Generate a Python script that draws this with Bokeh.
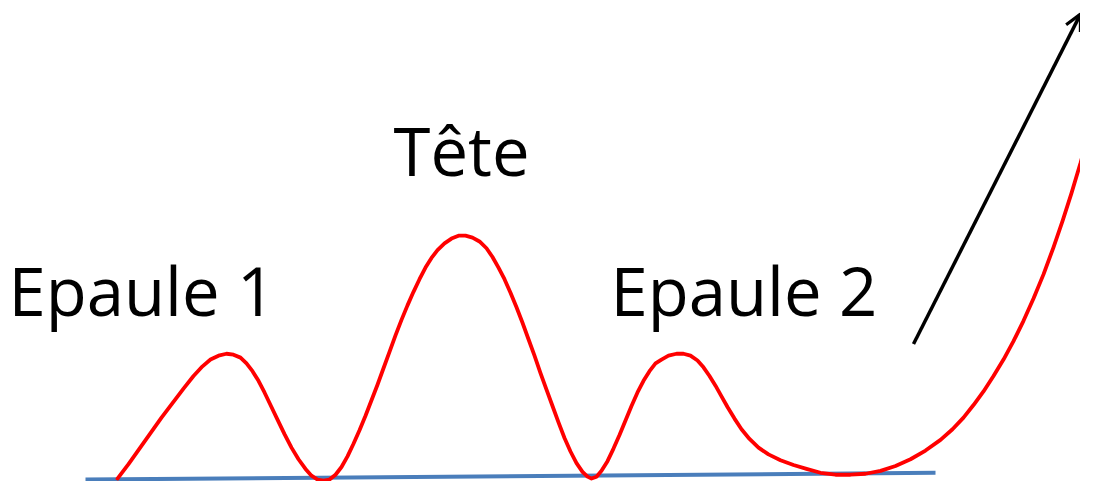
from bokeh.plotting import figure
from bokeh.models import Range1d, Arrow, OpenHead, ColumnDataSource
from bokeh.core.properties import value
from bokeh.embed import file_html
from bokeh.resources import INLINE

# Price path (in picture coordinates: y grows downward)
curve_x = [117, 128, 139, 150, 161, 172, 183, 193, 202, 210, 218, 226, 233, 240, 246, 252, 258, 264, 270, 277,
           284, 291, 298, 305, 311, 317, 323, 329, 335, 341, 347, 353, 359, 365, 371, 377, 383, 389, 395, 401,
           407, 413, 419, 425, 431, 437, 444, 451, 458, 465, 472, 479, 486, 492, 498, 504, 510, 516, 522, 528,
           534, 540, 546, 552, 558, 564, 570, 576, 582, 587, 591, 596, 601, 607, 613, 619, 625, 631, 637, 643,
           649, 655, 661, 668, 676, 683, 690, 697, 703, 709, 715, 721, 727, 734, 741, 749, 758, 768, 780, 793,
           806, 820, 835, 850, 865, 880, 895, 910, 925, 940, 952, 963, 973, 983, 993, 1003, 1013, 1023, 1033, 1043,
           1053, 1062, 1071, 1080, 1088, 1096]
curve_y = [494, 479, 463, 447, 431, 416, 401, 388, 378, 371, 367, 365, 366, 369, 375, 383, 393, 405, 418, 433,
           448, 462, 474, 484, 491, 495, 496, 495, 490, 482, 471, 458, 444, 429, 413, 397, 380, 363, 346, 330,
           315, 301, 288, 276, 266, 258, 251, 246, 243, 243, 245, 249, 256, 265, 276, 288, 302, 317, 333, 350,
           367, 385, 402, 419, 436, 452, 466, 478, 487, 492, 494, 492, 486, 476, 463, 449, 434, 419, 405, 393,
           383, 375, 371, 367, 365, 365, 367, 372, 379, 388, 398, 409, 420, 432, 443, 453, 462, 469, 475, 480,
           484, 488, 490, 490, 489, 486, 481, 474, 465, 454, 443, 431, 418, 404, 388, 371, 352, 331, 308, 283,
           255, 228, 199, 168, 138, 108]

# Neckline
neck_x = [85, 935]
neck_y = [495, 488]

# Breakout arrow
arrow_x = [913, 1080]
arrow_y = [355, 14]

# Labels
label_text = ["Epaule 1", "T\u00eate", "Epaule 2"]
label_x = [8, 393, 610]
label_y = [299, 154, 299]

p = figure(width=1080, height=481, output_backend="svg", toolbar_location=None,
           x_range=Range1d(0, 1080), y_range=Range1d(497, 0),
           min_border=0, min_border_left=0, min_border_right=0,
           min_border_top=0, min_border_bottom=0)
p.axis.visible = False
p.grid.visible = False
p.outline_line_color = None
p.background_fill_color = "white"
p.border_fill_color = "white"

p.line(neck_x, neck_y, line_color="#4a7ebb", line_width=4)
p.line(curve_x, curve_y, line_color="#ff0000", line_width=3.8, line_join="round", line_cap="round")

p.add_layout(Arrow(end=OpenHead(size=16, line_width=3.2, line_color="black"),
                   x_start=arrow_x[0], y_start=arrow_y[0], x_end=arrow_x[1], y_end=arrow_y[1],
                   line_color="black", line_width=3.5))

src = ColumnDataSource(dict(x=label_x, y=label_y, t=label_text))
p.text(x="x", y="y", text="t", source=src, text_font=value("Open Sans"),
       text_font_size="67px", text_color="black", text_align="left", text_baseline="alphabetic")

open("out.html", "w").write(file_html(p, INLINE))
